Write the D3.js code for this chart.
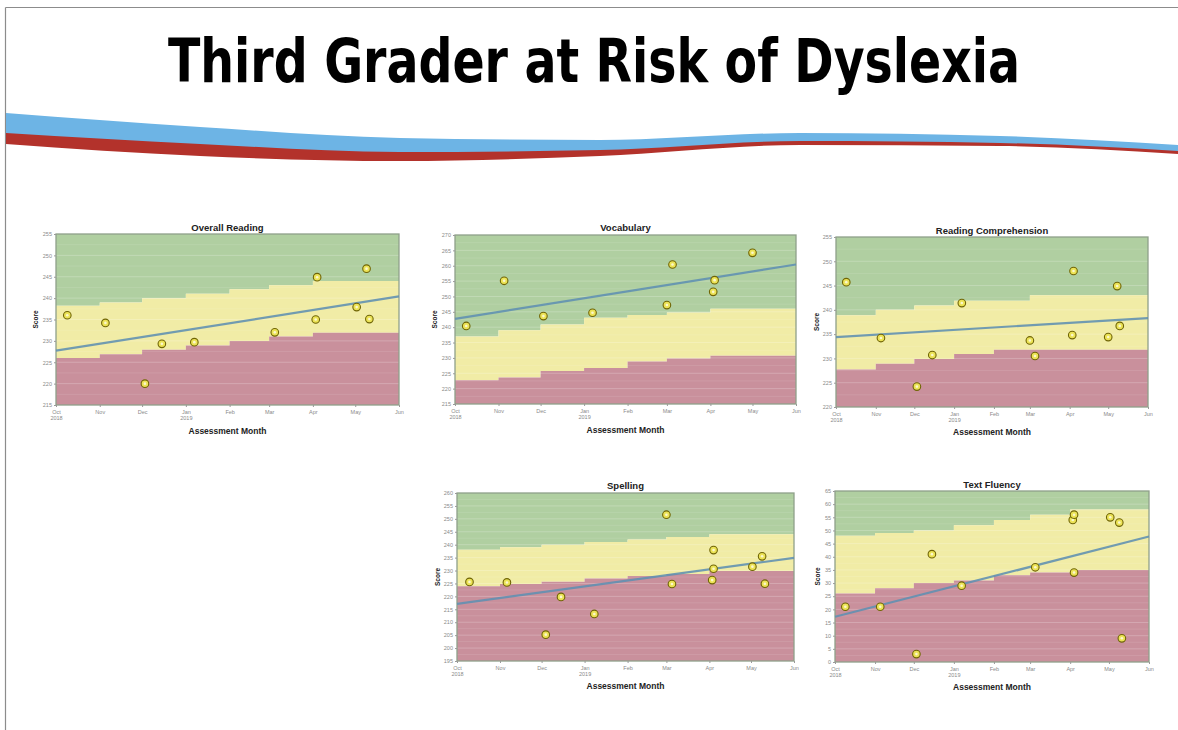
<!DOCTYPE html>
<html>
<head>
<meta charset="utf-8">
<script src="https://cdn.jsdelivr.net/npm/d3@7"></script>
<style>
  body { margin: 0; background: #fff; }
  svg { display: block; }
</style>
</head>
<body>
<svg id="slide" width="1178" height="730"></svg>
<script>
// ---------- shared axis data ----------
const bandMonths = ["2018-10-01","2018-11-01","2018-12-01","2019-01-01","2019-02-01","2019-03-01","2019-04-01","2019-05-01"];
const axisStart = "2018-10-01";
const axisEnd = "2019-06-01";
const monthTicks = ["2018-10-01","2018-11-01","2018-12-01","2019-01-01","2019-02-01","2019-03-01","2019-04-01","2019-05-01","2019-06-01"];
const monthTickLabels = [["Oct","2018"],["Nov"],["Dec"],["Jan","2019"],["Feb"],["Mar"],["Apr"],["May"],["Jun"]];

// ---------- Overall Reading ----------
const overallDates  = ["2018-10-09","2018-11-05","2018-12-03","2018-12-15","2019-01-07","2019-03-05","2019-04-03","2019-04-04","2019-05-02","2019-05-09","2019-05-11"];
const overallScores = [236, 234.2, 220, 229.3, 229.7, 232, 235, 244.9, 237.9, 246.9, 235.1];
const overallBenchmark = [238.2, 239, 240, 241, 242.1, 243, 244, 244];
const overallRiskCut   = [226, 226.9, 227.9, 228.9, 230, 231, 231.9, 231.9];
const overallTrend = [227.7, 240.4];
const overallTicks = [215, 220, 225, 230, 235, 240, 245, 250, 255];

// ---------- Vocabulary ----------
const vocabDates  = ["2018-10-09","2018-11-05","2018-12-03","2019-01-07","2019-03-01","2019-03-05","2019-04-03","2019-04-04","2019-05-01"];
const vocabScores = [240.4, 255.1, 243.6, 244.7, 247.2, 260.4, 251.5, 255.3, 264.2];
const vocabBenchmark = [237, 239, 240.9, 243.1, 244, 244.8, 246, 246];
const vocabRiskCut   = [222.7, 223.6, 225.7, 226.7, 228.8, 229.8, 230.7, 230.7];
const vocabTrend = [242.7, 260.4];
const vocabTicks = [215, 220, 225, 230, 235, 240, 245, 250, 255, 260, 265, 270];

// ---------- Reading Comprehension ----------
const compDates  = ["2018-10-09","2018-11-05","2018-12-03","2018-12-15","2019-01-07","2019-03-01","2019-03-05","2019-04-03","2019-04-04","2019-05-01","2019-05-08","2019-05-10"];
const compScores = [245.7, 234.2, 224.2, 230.7, 241.4, 233.7, 230.5, 234.8, 248, 234.4, 244.9, 236.7];
const compBenchmark = [238.9, 240, 240.9, 241.9, 241.9, 243, 243, 243];
const compRiskCut   = [227.7, 228.9, 229.9, 230.9, 231.8, 231.8, 231.8, 231.8];
const compTrend = [234.4, 238.3];
const compTicks = [220, 225, 230, 235, 240, 245, 250, 255];

// ---------- Spelling ----------
const spellDates  = ["2018-10-10","2018-11-06","2018-12-04","2018-12-15","2019-01-08","2019-03-01","2019-03-05","2019-04-03","2019-04-04","2019-04-04","2019-05-02","2019-05-09","2019-05-11"];
const spellScores = [225.6, 225.4, 205.2, 219.8, 213.2, 251.6, 224.8, 226.3, 237.9, 230.7, 231.5, 235.5, 224.9];
const spellBenchmark = [238, 239, 240, 241, 242, 243, 244, 244];
const spellRiskCut   = [223.9, 224.8, 225.7, 226.9, 227.9, 228.7, 229.8, 229.8];
const spellTrend = [217.1, 234.9];
const spellTicks = [195, 200, 205, 210, 215, 220, 225, 230, 235, 240, 245, 250, 255, 260];

// ---------- Text Fluency ----------
const fluencyDates  = ["2018-10-09","2018-11-05","2018-12-03","2018-12-15","2019-01-07","2019-03-05","2019-04-03","2019-04-04","2019-04-04","2019-05-02","2019-05-09","2019-05-11"];
const fluencyScores = [21, 21, 3, 41, 29, 36, 54, 56, 34, 55, 53, 9];
const fluencyBenchmark = [48, 49, 50, 52, 54, 56, 58, 58];
const fluencyRiskCut   = [26, 28, 30, 31, 33, 34, 35, 35];
const fluencyTrend = [17.2, 47.7];
const fluencyTicks = [0, 5, 10, 15, 20, 25, 30, 35, 40, 45, 50, 55, 60, 65];

// ---------- layout ----------
const parseDate = d3.timeParse("%Y-%m-%d");
const svg = d3.select("#slide");

const panels = [
  { title: "Overall Reading", dates: overallDates, scores: overallScores, bench: overallBenchmark, risk: overallRiskCut, trend: overallTrend, ticks: overallTicks,
    box: { left: 56, right: 399, top: 234, bottom: 405 }, titleY: 231, xTitleY: 434, yTitleX: 38 },
  { title: "Vocabulary", dates: vocabDates, scores: vocabScores, bench: vocabBenchmark, risk: vocabRiskCut, trend: vocabTrend, ticks: vocabTicks,
    box: { left: 455, right: 796, top: 235, bottom: 404 }, titleY: 231, xTitleY: 433, yTitleX: 437 },
  { title: "Reading Comprehension", dates: compDates, scores: compScores, bench: compBenchmark, risk: compRiskCut, trend: compTrend, ticks: compTicks,
    box: { left: 836, right: 1148, top: 237, bottom: 407 }, titleY: 234, xTitleY: 435, yTitleX: 819 },
  { title: "Spelling", dates: spellDates, scores: spellScores, bench: spellBenchmark, risk: spellRiskCut, trend: spellTrend, ticks: spellTicks,
    box: { left: 457, right: 794, top: 493, bottom: 661 }, titleY: 489, xTitleY: 689, yTitleX: 440 },
  { title: "Text Fluency", dates: fluencyDates, scores: fluencyScores, bench: fluencyBenchmark, risk: fluencyRiskCut, trend: fluencyTrend, ticks: fluencyTicks,
    box: { left: 835, right: 1149, top: 491, bottom: 662 }, titleY: 488, xTitleY: 690, yTitleX: 820 }
];

const colors = {
  green: "#b0cfa1",
  yellow: "#f1eca6",
  red: "#c9909c",
  frame: "#8fa08a",
  trend: "#5f90b2",
  pointFill: "#ece356",
  pointStroke: "#6f6406",
  tickText: "#8a8a8a"
};

// ---------- slide frame, title and swoosh ----------
svg.append("line").attr("x1", 5.5).attr("x2", 1178).attr("y1", 7.5).attr("y2", 7.5)
  .attr("stroke", "#8c8c8c").attr("stroke-width", 1.2);
svg.append("line").attr("x1", 5.5).attr("x2", 5.5).attr("y1", 7.5).attr("y2", 730)
  .attr("stroke", "#8c8c8c").attr("stroke-width", 1.2);

svg.append("text")
  .attr("x", 168).attr("y", 82)
  .attr("textLength", 852).attr("lengthAdjust", "spacingAndGlyphs")
  .style("font-family", "'DejaVu Sans Condensed', 'DejaVu Sans', sans-serif")
  .style("font-stretch", "condensed")
  .style("font-weight", "bold").style("font-size", "61px").attr("fill", "#000")
  .text("Third Grader at Risk of Dyslexia");

const swooshX      = [6, 200, 400, 600, 800, 1000, 1178];
const swooshTop    = [113, 127, 138, 140, 133, 136, 145];
const swooshMid    = [133, 144, 152, 150, 141, 143, 151];
const swooshBottom = [144, 156, 161, 156, 145, 146, 154];
const swooshPts = swooshX.map((x, i) => ({ x, t: swooshTop[i], m: swooshMid[i], b: swooshBottom[i] }));
const swooshArea = (y0, y1) => d3.area().curve(d3.curveMonotoneX).x(d => d.x).y0(y0).y1(y1);
svg.append("path").datum(swooshPts).attr("d", swooshArea(d => d.m - 1, d => d.b)).attr("fill", "#b3322b");
svg.append("path").datum(swooshPts).attr("d", swooshArea(d => d.t, d => d.m)).attr("fill", "#6db4e5");

// ---------- panels ----------
const xStart = parseDate(axisStart), xEnd = parseDate(axisEnd);
const monthStarts = bandMonths.map(parseDate);

panels.forEach(p => {
  const g = svg.append("g");
  const b = p.box;
  const yMin = p.ticks[0], yMax = p.ticks[p.ticks.length - 1];
  const x = d3.scaleTime().domain([xStart, xEnd]).range([b.left, b.right]);
  const y = d3.scaleLinear().domain([yMin, yMax]).range([b.bottom, b.top]);

  // stepped benchmark bands, one step per month
  const steps = monthStarts.map((m, i) => ({ date: m, bench: p.bench[i], risk: p.risk[i] }));
  steps.push({ date: xEnd, bench: p.bench[p.bench.length - 1], risk: p.risk[p.risk.length - 1] });
  const band = (lo, hi) => d3.area().curve(d3.curveStepAfter).x(d => x(d.date)).y0(lo).y1(hi);
  g.append("path").datum(steps).attr("fill", colors.green).attr("d", band(() => y(yMax), d => y(d.bench)));
  g.append("path").datum(steps).attr("fill", colors.yellow).attr("d", band(d => y(d.bench), d => y(d.risk)));
  g.append("path").datum(steps).attr("fill", colors.red).attr("d", band(d => y(d.risk), () => y(yMin)));

  // faint horizontal grid
  const step = p.ticks[1] - p.ticks[0];
  const grid = d3.range(yMin + step / 2, yMax, step / 2);
  g.selectAll(".grid").data(grid).join("line")
    .attr("x1", b.left).attr("x2", b.right)
    .attr("y1", d => y(d)).attr("y2", d => y(d))
    .attr("stroke", "#ffffff").attr("stroke-opacity", (d, i) => i % 2 ? 0.22 : 0.1)
    .attr("stroke-width", 1);

  // frame
  g.append("rect").attr("x", b.left).attr("y", b.top)
    .attr("width", b.right - b.left).attr("height", b.bottom - b.top)
    .attr("fill", "none").attr("stroke", colors.frame).attr("stroke-width", 1.3);

  // axes
  const yAxis = g.append("g").attr("transform", `translate(${b.left},0)`)
    .call(d3.axisLeft(y).tickValues(p.ticks).tickSize(2).tickPadding(2).tickFormat(d3.format("d")));
  const xAxis = g.append("g").attr("transform", `translate(0,${b.bottom})`)
    .call(d3.axisBottom(x).tickValues(monthTicks.map(parseDate)).tickSize(2).tickPadding(3).tickFormat(""));
  [yAxis, xAxis].forEach(a => {
    a.select(".domain").remove();
    a.selectAll(".tick line").attr("stroke", "#9a9a9a");
    a.selectAll(".tick text").attr("fill", colors.tickText)
      .style("font-family", "'Liberation Sans', Arial, sans-serif").style("font-size", "5.5px");
  });
  xAxis.selectAll(".tick text").each(function (d, i) {
    const t = d3.select(this).attr("y", 5);
    monthTickLabels[i].forEach((line, k) => {
      t.append("tspan").attr("x", 0).attr("dy", k === 0 ? "0.71em" : "1.15em").text(line);
    });
  });

  // trend line
  g.append("line")
    .attr("x1", x(xStart)).attr("y1", y(p.trend[0]))
    .attr("x2", x(xEnd)).attr("y2", y(p.trend[1]))
    .attr("stroke", colors.trend).attr("stroke-width", 2.2).attr("stroke-opacity", 0.88);

  // assessment scores
  const pts = p.dates.map((d, i) => ({ date: parseDate(d), score: p.scores[i] }));
  g.selectAll(".pt").data(pts).join("circle")
    .attr("cx", d => x(d.date)).attr("cy", d => y(d.score)).attr("r", 3.8)
    .attr("fill", colors.pointFill).attr("stroke", colors.pointStroke).attr("stroke-width", 1.1);
  g.selectAll(".ptc").data(pts).join("circle")
    .attr("cx", d => x(d.date)).attr("cy", d => y(d.score)).attr("r", 1.3)
    .attr("fill", "#fbf7cf");

  // titles
  const cx = (b.left + b.right) / 2;
  g.append("text").attr("x", cx).attr("y", p.titleY).attr("text-anchor", "middle")
    .style("font-family", "'Liberation Sans', Arial, sans-serif").style("font-weight", "bold")
    .style("font-size", "9.5px").attr("fill", "#222").text(p.title);
  g.append("text").attr("x", cx).attr("y", p.xTitleY).attr("text-anchor", "middle")
    .style("font-family", "'Liberation Sans', Arial, sans-serif").style("font-weight", "bold")
    .style("font-size", "8.5px").attr("fill", "#222").text("Assessment Month");
  g.append("text")
    .attr("transform", `translate(${p.yTitleX},${(b.top + b.bottom) / 2}) rotate(-90)`)
    .attr("text-anchor", "middle")
    .style("font-family", "'Liberation Sans', Arial, sans-serif").style("font-weight", "bold")
    .style("font-size", "6.5px").attr("fill", "#222").text("Score");
});
</script>
</body>
</html>
